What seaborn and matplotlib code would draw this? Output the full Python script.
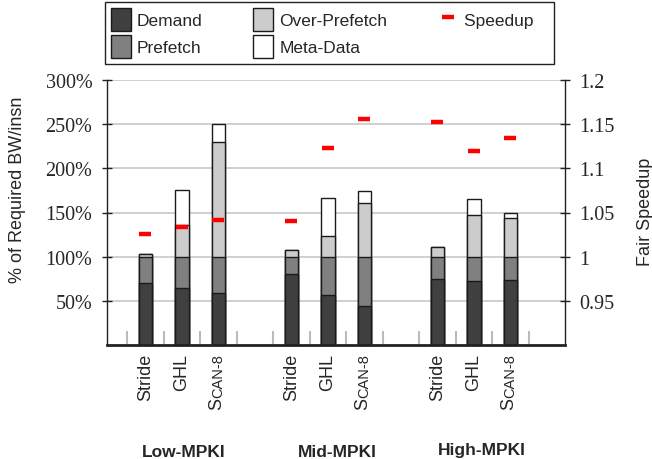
import matplotlib
matplotlib.use("Agg")
import matplotlib.pyplot as plt
import matplotlib.transforms as mtransforms
from matplotlib.patches import Patch
from matplotlib.lines import Line2D
import numpy as np
import pandas as pd
import seaborn as sns

# Workload groups and prefetchers
groups = ["Low-MPKI", "Mid-MPKI", "High-MPKI"]
prefetchers = ["Stride", "GHL", "SCAN-8"]

# Bandwidth breakdown (% of required BW/insn), one value per (group, prefetcher)
demand = [70, 65, 59, 80, 56.5, 44.5, 75, 72, 73.5]
prefetch = [30, 35, 41, 20, 43.5, 55.5, 25, 28, 26.5]
over_prefetch = [2.5, 36, 129.5, 7, 23.5, 61, 10.5, 47, 43.5]
meta_data = [0, 39, 21, 0, 43, 13.5, 0, 18, 5.5]

# Fair speedup (right axis)
speedup = [1.026, 1.034, 1.042, 1.040, 1.123, 1.156, 1.153, 1.120, 1.134]

left_ticks = [50, 100, 150, 200, 250, 300]
left_labels = ["50%", "100%", "150%", "200%", "250%", "300%"]
right_ticks = [0.95, 1.0, 1.05, 1.1, 1.15, 1.2]
right_labels = ["0.95", "1", "1.05", "1.1", "1.15", "1.2"]

sns.set_theme(style="white")
plt.rcParams["font.family"] = ["Liberation Sans", "DejaVu Sans"]

W, H = 652, 460
fig = plt.figure(figsize=(W / 100, H / 100), dpi=100)
fig.patch.set_facecolor("white")
ax_l, ax_r, ax_t, ax_b = 107, 565, 81, 346
ax = fig.add_axes([ax_l / W, 1 - ax_b / H, (ax_r - ax_l) / W, (ax_b - ax_t) / H])

# Bar positions: three slots per group plus an empty gap slot
pos = [g * 4 + i for g in range(len(groups)) for i in range(len(prefetchers))]
df = pd.DataFrame({
    "pos": pos,
    "demand": demand,
    "prefetch": prefetch,
    "over": over_prefetch,
    "meta": meta_data,
})
df["l1"] = df["demand"]
df["l2"] = df["l1"] + df["prefetch"]
df["l3"] = df["l2"] + df["over"]
df["l4"] = df["l3"] + df["meta"]

# Draw cumulative layers from the top down so each overlays the one above
layers = [("l4", "#ffffff"), ("l3", "#cccccc"), ("l2", "#808080"), ("l1", "#404040")]
for col, c in layers:
    sns.barplot(data=df, x="pos", y=col, native_scale=True, color=c,
                saturation=1, width=0.37, edgecolor="#1a1a1a", linewidth=1.0,
                errorbar=None, ax=ax)

ax.set_xlim(-1.05, 11.5)
ax.set_ylim(0, 300)
ax.set_xlabel("")
ax.set_ylabel("")
ax.set_yticks(left_ticks, left_labels, fontfamily="Liberation Serif", fontsize=14.5)
ax.set_xticks([])
ax.set_xticks(np.arange(-0.5, 11, 1), minor=True)
ax.tick_params(axis="x", which="minor", bottom=True, direction="in",
               length=10, width=1.5, color="#bbbbbb", labelbottom=False)
ax.tick_params(axis="y", left=True, direction="inout", length=7, width=1,
               color="#222222", pad=7)
ax.yaxis.grid(True, color="#c8c8c8", lw=1.2)
ax.xaxis.grid(False)
ax.set_axisbelow(True)
ax.spines["top"].set_visible(False)
ax.spines["right"].set_visible(False)
ax.spines["bottom"].set_linewidth(2)
ax.spines["bottom"].set_color("#222222")
ax.spines["left"].set_linewidth(1)
ax.spines["left"].set_color("#222222")

ax2 = ax.twinx()
ax2.set_ylim(0.9, 1.2)
ax2.plot(pos, speedup, ls="none", marker="_", ms=8, mew=3.2, color="#ff0000")
ax2.set_yticks(right_ticks, right_labels, fontfamily="Liberation Serif", fontsize=14.5)
ax2.tick_params(axis="y", right=True, direction="inout", length=7, width=1,
                color="#222222", pad=7)
ax2.grid(False)
for s in ["top", "left", "bottom"]:
    ax2.spines[s].set_visible(False)
ax2.spines["right"].set_linewidth(1)
ax2.spines["right"].set_color("#222222")

# Axis titles
fig.text(18 / W, 1 - 190 / H, "% of Required BW/insn", rotation=90,
         ha="center", va="center", fontsize=13)
fig.text(645 / W, 1 - 212 / H, "Fair Speedup", rotation=90,
         ha="center", va="center", fontsize=13)

# Prefetcher labels under each bar (SCAN-8 set in small caps)
trans = mtransforms.blended_transform_factory(ax.transData, fig.transFigure)
label_y = 1 - 354 / H
for k, p in enumerate(pos):
    name = prefetchers[k % 3]
    if name == "SCAN-8":
        t = ax.text(p, label_y, "CAN-8", transform=trans, rotation=90,
                    ha="center", va="top", fontsize=10.5)
        ax.annotate("S", xy=(1, 0), xycoords=t, rotation=90,
                    ha="right", va="top", fontsize=13)
    else:
        ax.text(p, label_y, name, transform=trans, rotation=90,
                ha="center", va="top", fontsize=13)

# Group labels
group_x = [184, 337, 482]
group_y = [453, 453, 451]
for g, gx, gy in zip(groups, group_x, group_y):
    fig.text(gx / W, 1 - gy / H, g, ha="center", va="center",
             fontsize=12.5, fontweight="bold")

# Legend
ec = "#1a1a1a"
handles = [
    Patch(facecolor="#404040", edgecolor=ec, lw=1, label="Demand"),
    Patch(facecolor="#808080", edgecolor=ec, lw=1, label="Prefetch"),
    Patch(facecolor="#cccccc", edgecolor=ec, lw=1, label="Over-Prefetch"),
    Patch(facecolor="#ffffff", edgecolor=ec, lw=1, label="Meta-Data"),
    Line2D([], [], ls="none", marker="_", ms=8, mew=3.2, color="#ff0000",
           label="Speedup   "),
]
leg = fig.legend(handles=handles, ncol=3, loc="upper left",
                 bbox_to_anchor=(105 / W, 1 - 3 / H), borderaxespad=0,
                 fontsize=12.5, handlelength=1.15, handleheight=1.67,
                 handletextpad=0.35, labelspacing=0.22, columnspacing=2.9,
                 borderpad=0.35, frameon=True, fancybox=False)
leg.get_frame().set_edgecolor("#222222")
leg.get_frame().set_linewidth(1)
leg.get_frame().set_alpha(1)

fig.savefig("out.png", dpi=100)
